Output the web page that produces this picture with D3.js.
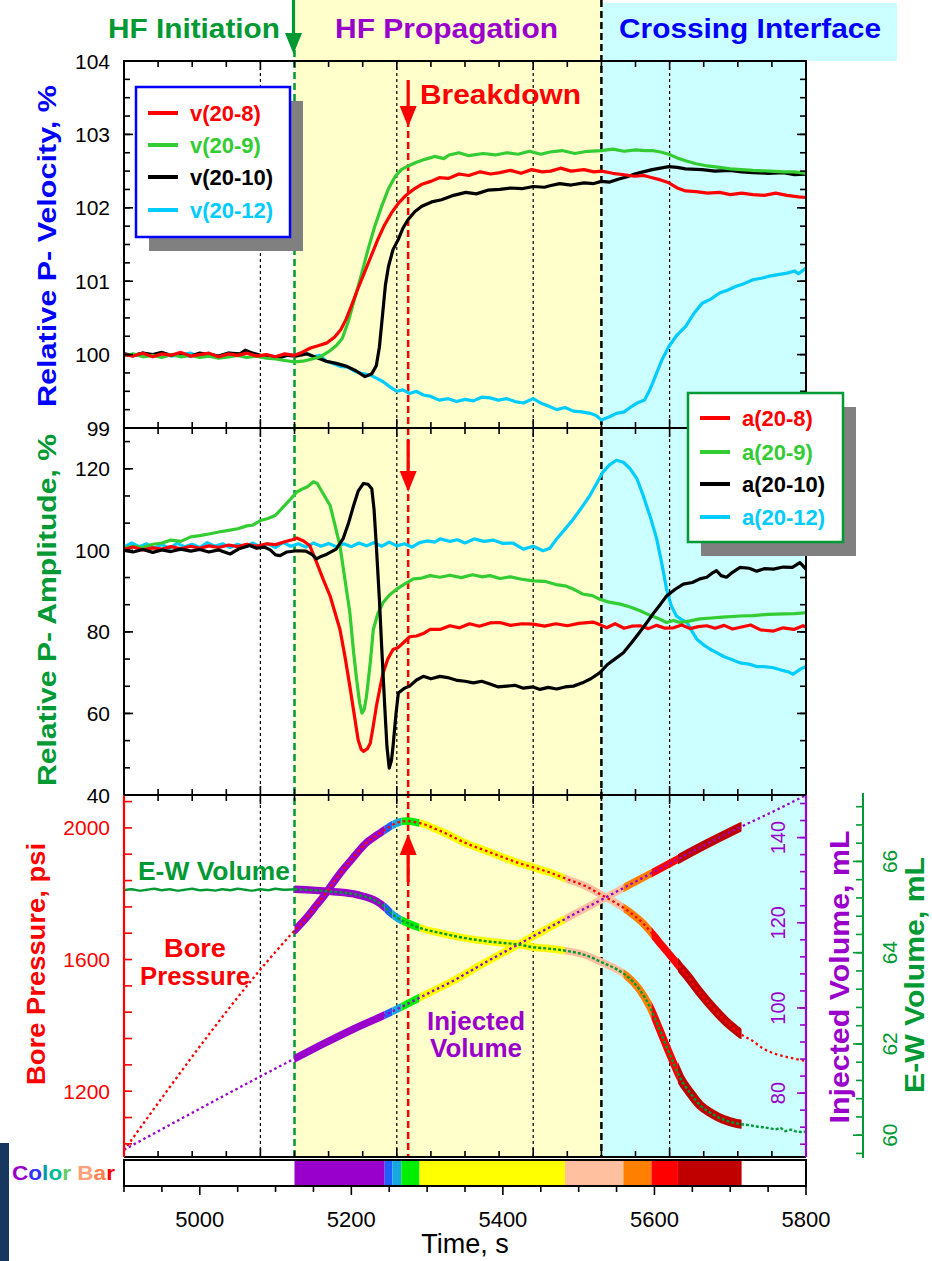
<!DOCTYPE html>
<html>
<head>
<meta charset="utf-8">
<script src="https://cdn.jsdelivr.net/npm/d3@7"></script>
<style>
  body { margin: 0; background: #fff; }
  svg { display: block; font-family: "Liberation Sans", Arial, sans-serif; }
</style>
</head>
<body>
<svg id="chart" width="932" height="1261"></svg>
<script>
// ---------------- data ----------------
// Relative P-wave velocity, % (time s, value)
const vel208 = [[4900,100.00],[4912,99.98],[4925,100.02],[4938,99.97],[4950,100.01],[4962,99.99],[4975,100.03],[4988,99.98],[5000,100.00],[5012,100.02],[5025,99.97],[5038,100.01],[5050,99.99],[5062,100.02],[5075,99.98],[5088,100.00],[5100,99.97],[5112,100.01],[5125,99.99],[5135,100.03],[5146,100.09],[5156,100.12],[5168,100.16],[5178,100.24],[5186,100.34],[5193,100.48],[5200,100.66],[5208,100.88],[5217,101.11],[5226,101.34],[5235,101.57],[5244,101.77],[5253,101.93],[5262,102.06],[5271,102.16],[5282,102.25],[5293,102.32],[5305,102.36],[5316,102.41],[5328,102.40],[5342,102.46],[5355,102.44],[5370,102.49],[5384,102.46],[5396,102.48],[5410,102.51],[5424,102.47],[5438,102.52],[5452,102.49],[5463,102.50],[5476,102.54],[5490,102.50],[5507,102.52],[5520,102.49],[5530,102.50],[5545,102.47],[5560,102.45],[5574,102.43],[5586,102.44],[5597,102.41],[5608,102.38],[5619,102.34],[5630,102.27],[5641,102.23],[5655,102.22],[5670,102.20],[5686,102.21],[5700,102.18],[5715,102.20],[5730,102.18],[5745,102.17],[5760,102.20],[5775,102.17],[5790,102.15],[5800,102.14]];
const vel209 = [[4900,99.98],[4912,100.01],[4925,99.97],[4938,99.99],[4950,99.96],[4962,100.00],[4975,99.97],[4988,99.99],[5000,99.96],[5012,99.98],[5025,99.95],[5038,99.97],[5050,99.99],[5062,99.96],[5075,99.98],[5088,99.95],[5100,99.94],[5112,99.92],[5125,99.90],[5136,99.91],[5148,99.94],[5159,99.97],[5170,100.04],[5180,100.12],[5188,100.22],[5196,100.45],[5204,100.75],[5213,101.08],[5222,101.43],[5231,101.75],[5240,102.02],[5249,102.26],[5258,102.43],[5266,102.52],[5275,102.57],[5286,102.62],[5297,102.66],[5310,102.70],[5322,102.67],[5329,102.72],[5342,102.75],[5355,102.71],[5374,102.74],[5390,102.72],[5405,102.75],[5420,102.73],[5435,102.77],[5450,102.73],[5462,102.76],[5478,102.78],[5495,102.74],[5512,102.77],[5530,102.78],[5545,102.80],[5560,102.77],[5575,102.79],[5588,102.78],[5597,102.78],[5608,102.76],[5619,102.73],[5630,102.68],[5641,102.64],[5655,102.60],[5670,102.57],[5686,102.55],[5700,102.53],[5715,102.52],[5730,102.51],[5753,102.50],[5770,102.49],[5785,102.49],[5800,102.47]];
const vel2010 = [[4900,100.01],[4912,99.99],[4925,100.02],[4938,100.00],[4950,100.03],[4962,99.99],[4975,100.01],[4988,99.98],[5000,100.02],[5012,100.00],[5025,99.98],[5038,100.02],[5053,100.01],[5060,100.06],[5070,100.02],[5080,99.99],[5093,99.97],[5106,99.96],[5116,99.99],[5126,99.98],[5141,100.01],[5154,99.96],[5167,99.91],[5180,99.88],[5194,99.84],[5206,99.78],[5218,99.70],[5227,99.74],[5233,99.85],[5237,100.10],[5241,100.52],[5245,100.95],[5249,101.20],[5255,101.43],[5262,101.57],[5268,101.72],[5275,101.84],[5284,101.95],[5293,102.02],[5306,102.08],[5319,102.11],[5335,102.17],[5351,102.21],[5365,102.19],[5380,102.24],[5396,102.25],[5410,102.27],[5425,102.26],[5440,102.29],[5455,102.28],[5462,102.30],[5475,102.33],[5490,102.31],[5507,102.34],[5520,102.33],[5530,102.36],[5541,102.35],[5552,102.39],[5563,102.42],[5574,102.46],[5585,102.49],[5597,102.52],[5608,102.54],[5619,102.56],[5630,102.55],[5641,102.53],[5663,102.52],[5680,102.50],[5700,102.51],[5715,102.49],[5730,102.48],[5750,102.47],[5770,102.48],[5785,102.45],[5800,102.46]];
const vel2012 = [[4900,100.01],[4912,99.98],[4925,100.02],[4938,99.99],[4950,100.03],[4962,99.98],[4975,100.00],[4988,100.02],[5000,99.97],[5012,100.01],[5025,99.98],[5038,100.02],[5053,100.00],[5065,100.03],[5080,99.97],[5093,99.98],[5106,99.96],[5116,100.00],[5126,99.99],[5135,100.03],[5141,100.02],[5150,99.97],[5158,99.99],[5167,99.91],[5176,99.88],[5185,99.84],[5195,99.83],[5205,99.77],[5215,99.74],[5225,99.72],[5233,99.68],[5242,99.63],[5251,99.56],[5260,99.50],[5268,99.52],[5277,99.47],[5286,99.50],[5295,99.45],[5305,99.43],[5316,99.38],[5328,99.40],[5339,99.36],[5350,99.39],[5361,99.37],[5372,99.42],[5383,99.41],[5394,99.38],[5405,99.40],[5416,99.36],[5427,99.34],[5440,99.40],[5450,99.34],[5460,99.30],[5471,99.25],[5482,99.28],[5493,99.23],[5504,99.22],[5515,99.20],[5523,99.17],[5530,99.11],[5540,99.15],[5550,99.20],[5560,99.22],[5568,99.28],[5577,99.34],[5587,99.38],[5594,99.52],[5601,99.70],[5610,99.93],[5619,100.11],[5630,100.27],[5641,100.38],[5652,100.56],[5663,100.70],[5675,100.76],[5686,100.84],[5697,100.88],[5708,100.93],[5719,100.97],[5730,101.02],[5741,101.04],[5752,101.07],[5763,101.09],[5775,101.11],[5785,101.14],[5790,101.10],[5800,101.18]];

// Relative P-wave amplitude, %
const amp208 = [[4900,100.2],[4912,100.8],[4925,100.1],[4938,100.6],[4950,100.3],[4962,100.9],[4975,100.4],[4988,101.0],[5000,100.5],[5012,101.1],[5025,100.7],[5038,101.3],[5050,100.9],[5062,101.5],[5075,101.0],[5088,101.6],[5100,101.4],[5112,102.1],[5122,102.6],[5128,103.0],[5137,102.3],[5145,101.2],[5154,97.1],[5163,92.8],[5172,88.8],[5185,80.6],[5192,73.5],[5198,66.7],[5204,59.5],[5209,53.5],[5213,51.2],[5216,50.7],[5221,51.3],[5225,52.7],[5229,57.0],[5233,61.7],[5238,66.5],[5242,70.0],[5248,73.3],[5255,75.7],[5262,76.2],[5269,77.4],[5277,78.8],[5286,79.0],[5295,79.6],[5304,80.6],[5317,80.6],[5330,81.5],[5343,81.0],[5356,82.0],[5369,81.4],[5383,82.2],[5396,82.3],[5410,81.6],[5425,82.0],[5440,81.9],[5455,81.4],[5470,82.0],[5485,81.5],[5500,82.1],[5519,82.4],[5530,81.6],[5537,81.0],[5548,82.0],[5560,80.9],[5570,81.4],[5581,81.5],[5592,80.8],[5603,81.6],[5614,80.9],[5625,81.0],[5636,81.7],[5647,80.8],[5658,81.3],[5669,81.5],[5680,80.9],[5692,81.6],[5703,80.7],[5715,81.2],[5727,81.7],[5740,80.5],[5757,80.2],[5770,81.0],[5784,80.6],[5796,81.5],[5800,81.2]];
const amp209 = [[4900,100.6],[4912,101.0],[4925,100.7],[4938,101.5],[4950,101.8],[4962,102.5],[4975,102.2],[4988,103.3],[5000,103.6],[5012,104.0],[5025,104.5],[5038,104.9],[5050,105.3],[5062,106.0],[5070,106.2],[5080,107.3],[5090,107.8],[5100,108.6],[5106,109.8],[5114,111.4],[5121,112.8],[5128,114.3],[5135,115.0],[5142,115.6],[5150,116.8],[5155,116.4],[5159,115.1],[5165,113.2],[5172,111.0],[5178,106.5],[5185,101.1],[5191,93.5],[5198,84.8],[5203,75.0],[5207,68.3],[5211,62.5],[5214,60.1],[5217,61.0],[5220,64.2],[5225,72.5],[5229,80.6],[5235,84.5],[5242,87.2],[5250,89.0],[5260,90.5],[5270,91.7],[5282,93.0],[5293,93.2],[5304,93.8],[5317,93.4],[5330,93.9],[5345,93.3],[5360,94.0],[5373,93.5],[5383,93.8],[5396,93.1],[5410,93.5],[5425,92.9],[5440,92.5],[5455,92.4],[5470,91.6],[5482,91.3],[5493,90.5],[5505,89.3],[5518,88.9],[5528,88.0],[5540,87.3],[5555,86.8],[5568,86.1],[5581,85.2],[5595,84.0],[5605,83.3],[5616,82.3],[5625,82.8],[5634,82.3],[5647,82.7],[5660,83.2],[5675,83.4],[5690,83.6],[5713,83.9],[5730,84.0],[5750,84.3],[5770,84.4],[5785,84.5],[5800,84.7]];
const amp2010 = [[4900,100.0],[4912,99.6],[4925,100.2],[4938,99.5],[4950,100.1],[4962,99.7],[4975,100.3],[4988,99.8],[5000,100.2],[5012,99.6],[5025,100.1],[5040,99.1],[5052,100.4],[5066,101.2],[5075,100.5],[5085,100.8],[5093,100.1],[5100,98.9],[5106,98.7],[5115,99.6],[5128,99.9],[5140,99.8],[5148,99.0],[5154,97.9],[5160,98.5],[5166,98.9],[5172,99.5],[5180,100.3],[5189,102.8],[5196,106.5],[5203,111.0],[5209,114.5],[5216,116.4],[5222,116.2],[5227,115.1],[5230,110.0],[5233,101.1],[5237,88.0],[5240,76.5],[5244,62.0],[5247,51.9],[5250,46.6],[5253,48.5],[5255,51.9],[5259,60.0],[5262,65.0],[5270,66.2],[5277,66.7],[5286,68.2],[5295,69.1],[5305,68.5],[5317,69.1],[5327,68.8],[5340,68.1],[5350,67.9],[5361,67.5],[5372,67.9],[5383,67.2],[5394,66.5],[5405,66.7],[5416,66.9],[5427,66.2],[5440,66.5],[5449,65.9],[5460,66.4],[5471,66.0],[5482,66.5],[5493,66.7],[5505,67.5],[5516,68.5],[5528,70.0],[5538,72.0],[5549,73.5],[5559,74.9],[5570,77.4],[5580,79.8],[5590,82.3],[5600,84.9],[5608,86.8],[5616,88.8],[5627,90.4],[5638,91.7],[5650,92.1],[5660,93.0],[5669,93.4],[5676,94.4],[5682,95.0],[5688,93.8],[5695,93.4],[5703,94.6],[5713,95.8],[5725,95.6],[5735,94.9],[5745,95.5],[5757,95.4],[5770,95.9],[5782,95.8],[5792,97.0],[5800,95.4]];
const amp2012 = [[4900,100.8],[4910,101.8],[4920,100.9],[4930,101.6],[4940,100.6],[4950,101.4],[4960,100.5],[4970,101.7],[4980,100.9],[4990,101.5],[5000,100.7],[5010,101.9],[5020,101.0],[5030,101.6],[5040,100.7],[5050,101.5],[5060,100.9],[5070,101.8],[5080,100.8],[5090,101.6],[5100,100.7],[5110,101.9],[5120,101.0],[5130,101.6],[5140,100.8],[5150,101.8],[5160,101.0],[5170,101.7],[5180,100.9],[5190,101.6],[5200,100.9],[5210,101.8],[5220,101.1],[5230,101.9],[5240,101.0],[5250,102.0],[5260,101.1],[5270,101.6],[5280,100.8],[5290,101.9],[5300,102.3],[5310,102.0],[5317,102.8],[5330,102.2],[5340,102.6],[5350,101.8],[5362,102.8],[5375,102.2],[5388,102.5],[5400,101.7],[5413,101.8],[5427,100.3],[5440,101.0],[5453,99.9],[5462,100.5],[5471,102.8],[5482,105.2],[5493,107.7],[5504,110.5],[5515,113.5],[5524,116.5],[5532,119.2],[5541,121.0],[5550,122.1],[5559,121.6],[5568,120.0],[5577,117.5],[5585,113.5],[5594,108.5],[5603,102.8],[5610,96.5],[5616,90.5],[5622,86.5],[5629,83.9],[5636,83.0],[5643,82.3],[5650,80.0],[5656,78.2],[5665,76.8],[5673,75.8],[5682,74.9],[5692,73.9],[5702,73.2],[5713,72.4],[5725,72.1],[5735,71.5],[5745,71.5],[5757,71.2],[5768,70.6],[5777,70.2],[5783,69.6],[5792,70.8],[5800,71.5]];

// Bore pressure, psi
const presStart = [[4900,1020],[5125,1688]];
const presBand = [[5125,1688],[5140,1725],[5155,1768],[5164,1794],[5175,1830],[5188,1870],[5200,1903],[5208,1925],[5220,1955],[5230,1972],[5239,1986],[5250,2003],[5261,2016],[5268,2020],[5274,2021],[5285,2017],[5296,2011],[5310,1998],[5325,1983],[5340,1966],[5355,1950],[5370,1937],[5384,1925],[5400,1911],[5424,1891],[5436,1883],[5460,1866],[5484,1845],[5510,1822],[5532,1794],[5550,1771],[5568,1743],[5585,1710],[5599,1673],[5610,1642],[5621,1612],[5632,1581],[5643,1551],[5660,1500],[5678,1451],[5693,1415],[5708,1385],[5715,1372]];
const presEnd = [[5715,1372],[5730,1352],[5743,1330],[5760,1313],[5780,1301],[5800,1292]];

// Injected volume, mL
const injStart = [[4900,66.7],[5125,88.1]];
const injBand = [[5125,88.1],[5160,91.3],[5200,94.8],[5252,99.0],[5300,103.3],[5340,106.9],[5370,110.0],[5418,114.7],[5479,120.6],[5532,125.6],[5568,129.0],[5621,134.0],[5670,138.6],[5715,142.6]];
const injEnd = [[5715,142.6],[5760,146.4],[5800,150.0]];

// E-W volume, mL
const ewStart = [[4900,65.37],[4910,65.39],[4920,65.36],[4930,65.38],[4940,65.40],[4950,65.37],[4960,65.39],[4970,65.36],[4980,65.38],[4990,65.40],[5000,65.37],[5010,65.38],[5020,65.36],[5030,65.39],[5040,65.37],[5050,65.40],[5060,65.38],[5070,65.36],[5080,65.39],[5090,65.37],[5100,65.40],[5110,65.38],[5125,65.39]];
const ewBand = [[5125,65.39],[5173,65.34],[5208,65.27],[5234,65.12],[5244,65.00],[5252,64.87],[5262,64.75],[5274,64.65],[5295,64.52],[5318,64.43],[5350,64.32],[5384,64.24],[5424,64.17],[5436,64.13],[5460,64.09],[5484,64.04],[5510,63.94],[5533,63.77],[5550,63.64],[5564,63.48],[5580,63.20],[5595,62.78],[5606,62.35],[5617,61.90],[5626,61.55],[5634,61.25],[5647,60.93],[5660,60.66],[5675,60.48],[5690,60.35],[5708,60.26],[5715,60.24]];
const ewEnd = [[5715,60.24],[5725,60.22],[5735,60.19],[5745,60.17],[5752,60.15],[5760,60.13],[5766,60.16],[5772,60.09],[5780,60.12],[5787,60.08],[5796,60.07],[5800,60.08]];

// colour bar stages (start s, end s, colour)
const stageBands = [[5125,5244,"#9900CC"],[5244,5254,"#1F5FFF"],[5254,5266,"#18A8E0"],[5266,5290,"#00EE00"],[5290,5482,"#FFFF00"],[5482,5559,"#FFC0A0"],[5559,5596,"#FF8000"],[5596,5631,"#FF0000"],[5631,5715,"#C00000"]];

// event times, s
const tInitiation = 5125, tBreakdown = 5275, tInterface = 5530;
const gridTimes = [5080, 5260, 5440, 5620];

// labels
const velNames = ["v(20-8)", "v(20-9)", "v(20-10)", "v(20-12)"];
const ampNames = ["a(20-8)", "a(20-9)", "a(20-10)", "a(20-12)"];
const seriesColors = ["#FF0000", "#33CC33", "#000000", "#00CCFF"];
const velTicks = [99, 100, 101, 102, 103, 104];
const ampTicks = [40, 60, 80, 100, 120];
const presTicks = [1200, 1600, 2000];
const injTicks = [80, 100, 120, 140];
const ewTicks = [60, 62, 64, 66];
const timeTicks = [5000, 5200, 5400, 5600, 5800];

// ---------------- layout ----------------
const L = 124, R = 806;
const topP = [61, 428], midP = [428, 795], botP = [795, 1157];
const barY = [1160, 1186];

const x = d3.scaleLinear().domain([4900, 5800]).range([L, R]);
const yV = d3.scaleLinear().domain([99, 104]).range([topP[1], topP[0]]);
const yA = d3.scaleLinear().domain([40, 130]).range([midP[1], midP[0]]);
const yP = d3.scaleLinear().domain([1000, 2100]).range([botP[1], botP[0]]);
const yI = d3.scaleLinear().domain([65, 150]).range([botP[1], botP[0]]);
const yE = d3.scaleLinear().domain([59.5, 67.5]).range([1158, 793]);

const svg = d3.select("#chart");
const defs = svg.append("defs");

// ---------------- backgrounds ----------------
svg.append("rect").attr("x", x(tInitiation)).attr("y", 0)
  .attr("width", x(tInterface) - x(tInitiation)).attr("height", botP[1]).attr("fill", "#FFFFCC");
svg.append("rect").attr("x", x(tInterface)).attr("y", topP[0])
  .attr("width", x(5800) - x(tInterface)).attr("height", botP[1] - topP[0]).attr("fill", "#CCFFFF");
svg.append("rect").attr("x", x(tInterface)).attr("y", 3)
  .attr("width", 897 - x(tInterface)).attr("height", topP[0] - 3).attr("fill", "#CCFFFF");
svg.append("rect").attr("x", 0).attr("y", 1143).attr("width", 9).attr("height", 118).attr("fill", "#17375E");

// ---------------- vertical markers ----------------
svg.selectAll(".grid").data(gridTimes).join("line")
  .attr("x1", d => x(d)).attr("x2", d => x(d)).attr("y1", topP[0]).attr("y2", botP[1])
  .attr("stroke", "#000").attr("stroke-width", 1.2).attr("stroke-dasharray", "3,3");
svg.append("line").attr("x1", x(tInitiation)).attr("x2", x(tInitiation)).attr("y1", 50).attr("y2", botP[1])
  .attr("stroke", "#009933").attr("stroke-width", 2.5).attr("stroke-dasharray", "7,4");
svg.append("line").attr("x1", x(tBreakdown)).attr("x2", x(tBreakdown)).attr("y1", 120).attr("y2", botP[1])
  .attr("stroke", "#FF0000").attr("stroke-width", 2.5).attr("stroke-dasharray", "7,4");
svg.append("line").attr("x1", x(tInterface)).attr("x2", x(tInterface)).attr("y1", 0).attr("y2", botP[1])
  .attr("stroke", "#000").attr("stroke-width", 2.5).attr("stroke-dasharray", "7,4");

// ---------------- clip regions ----------------
function clipRect(id, y0, y1) {
  defs.append("clipPath").attr("id", id).append("rect")
    .attr("x", L).attr("y", y0).attr("width", R - L).attr("height", y1 - y0);
}
clipRect("clipTop", topP[0], topP[1]);
clipRect("clipMid", midP[0], midP[1]);
clipRect("clipBot", botP[0], botP[1]);

// ---------------- velocity & amplitude curves ----------------
function drawSeries(list, yScale, clip) {
  const line = d3.line().x(d => x(d[0])).y(d => yScale(d[1]));
  const g = svg.append("g").attr("clip-path", `url(#${clip})`);
  g.selectAll("path").data(list).join("path")
    .attr("d", d => line(d.data)).attr("fill", "none")
    .attr("stroke", d => d.color).attr("stroke-width", 3.2)
    .attr("stroke-linejoin", "round").attr("stroke-linecap", "round");
}
drawSeries([vel2012, vel2010, vel209, vel208].map((d, i) => ({ data: d, color: seriesColors[3 - i] })), yV, "clipTop");
drawSeries([amp2012, amp209, amp208, amp2010].map((d, i) => ({ data: d, color: [seriesColors[3], seriesColors[1], seriesColors[0], seriesColors[2]][i] })), yA, "clipMid");

// ---------------- bottom panel: stage-coloured bands ----------------
stageBands.forEach((b, i) => {
  defs.append("clipPath").attr("id", "stage" + i).append("rect")
    .attr("x", x(b[0])).attr("y", botP[0]).attr("width", x(b[1]) - x(b[0])).attr("height", botP[1] - botP[0]);
});
const bandSeries = [
  { data: injBand, y: yI },
  { data: presBand, y: yP },
  { data: ewBand, y: yE }
];
const bot = svg.append("g").attr("clip-path", "url(#clipBot)");
bandSeries.forEach(s => {
  const line = d3.line().x(d => x(d[0])).y(d => s.y(d[1])).curve(d3.curveMonotoneX);
  stageBands.forEach((b, i) => {
    bot.append("g").attr("clip-path", `url(#stage${i})`).append("path")
      .attr("d", line(s.data)).attr("fill", "none").attr("stroke", b[2])
      .attr("stroke-width", b[2] === "#C00000" ? 9 : 7.5).attr("stroke-linecap", "round");
  });
});

function dotted(data, yScale, color, dash, width) {
  const line = d3.line().x(d => x(d[0])).y(d => yScale(d[1])).curve(d3.curveMonotoneX);
  bot.append("path").attr("d", line(data)).attr("fill", "none")
    .attr("stroke", color).attr("stroke-width", width).attr("stroke-dasharray", dash);
}
dotted(presStart.concat(presBand.slice(1), presEnd.slice(1)), yP, "#FF0000", "2.5,3", 2.3);
dotted(injStart.concat(injBand.slice(1), injEnd.slice(1)), yI, "#9900CC", "2.5,3", 2.3);
dotted(ewStart, yE, "#009933", "none", 2.4);
dotted(ewBand.concat(ewEnd.slice(1)), yE, "#009933", "3,2", 2.4);

// ---------------- frames & ticks ----------------
const tickG = svg.append("g").attr("stroke-width", 1.6);
function yTicks(scale, vals, x0, dir, len, color) {
  tickG.append("g").selectAll("line").data(vals).join("line")
    .attr("x1", x0).attr("x2", x0 + dir * len)
    .attr("y1", d => scale(d)).attr("y2", d => scale(d)).attr("stroke", color);
}
function xTicks(vals, y0, dir, lenFn, color) {
  tickG.append("g").selectAll("line").data(vals).join("line")
    .attr("x1", d => x(d)).attr("x2", d => x(d))
    .attr("y1", y0).attr("y2", d => y0 + dir * lenFn(d)).attr("stroke", color || "#000");
}
const panelTimes = d3.range(4900, 5800.1, 45);
const panelTickLen = d => ((d - 4900) % 180 === 0 ? 9 : 6);
[topP, midP, botP].forEach(p => {
  xTicks(panelTimes, p[0], 1, panelTickLen);
  xTicks(panelTimes, p[1], -1, panelTickLen);
});

const velMinor = d3.range(99, 104.01, 0.25);
yTicks(yV, velMinor, L, 1, 6, "#000"); yTicks(yV, velTicks, L, 1, 9, "#000");
yTicks(yV, velMinor, R, -1, 6, "#000"); yTicks(yV, velTicks, R, -1, 9, "#000");
const ampMinor = d3.range(40, 130.01, 20 / 3);
yTicks(yA, ampMinor, L, 1, 6, "#000"); yTicks(yA, ampTicks, L, 1, 9, "#000");
yTicks(yA, ampMinor, R, -1, 6, "#000"); yTicks(yA, ampTicks, R, -1, 9, "#000");
yTicks(yP, d3.range(1040, 2100, 80), L, 1, 8, "#FF0000");
yTicks(yI, d3.range(68, 150, 4), R, -1, 6, "#9900CC"); yTicks(yI, injTicks, R, -1, 9, "#9900CC");

svg.append("rect").attr("x", L).attr("y", topP[0]).attr("width", R - L).attr("height", topP[1] - topP[0])
  .attr("fill", "none").attr("stroke", "#000").attr("stroke-width", 2);
svg.append("rect").attr("x", L).attr("y", midP[0]).attr("width", R - L).attr("height", midP[1] - midP[0])
  .attr("fill", "none").attr("stroke", "#000").attr("stroke-width", 2);
svg.append("line").attr("x1", L).attr("x2", R).attr("y1", botP[1]).attr("y2", botP[1]).attr("stroke", "#000").attr("stroke-width", 2);
svg.append("line").attr("x1", L).attr("x2", L).attr("y1", botP[0]).attr("y2", botP[1]).attr("stroke", "#FF0000").attr("stroke-width", 2.2);
svg.append("line").attr("x1", R).attr("x2", R).attr("y1", botP[0]).attr("y2", botP[1]).attr("stroke", "#9900CC").attr("stroke-width", 2.2);
svg.append("line").attr("x1", L).attr("x2", R).attr("y1", botP[0]).attr("y2", botP[0]).attr("stroke", "#000").attr("stroke-width", 2);

// E-W volume axis
const ewX = 863;
svg.append("line").attr("x1", ewX).attr("x2", ewX).attr("y1", 793).attr("y2", 1158).attr("stroke", "#009933").attr("stroke-width", 2);
yTicks(yE, d3.range(59.6, 67.5, 0.4), ewX, -1, 7, "#009933");
yTicks(yE, ewTicks, ewX, -1, 10, "#009933");

// ---------------- colour bar ----------------
svg.append("g").selectAll("rect").data(stageBands).join("rect")
  .attr("x", d => x(d[0])).attr("y", barY[0]).attr("width", d => x(d[1]) - x(d[0]))
  .attr("height", barY[1] - barY[0]).attr("fill", d => d[2]);
svg.append("rect").attr("x", L).attr("y", barY[0]).attr("width", R - L).attr("height", barY[1] - barY[0])
  .attr("fill", "none").attr("stroke", "#000").attr("stroke-width", 2);
xTicks(d3.range(4900, 5800.1, 50), barY[1], 1, d => (d % 200 === 0 ? 9 : 6));

// ---------------- tick labels ----------------
const textG = svg.append("g");
function leftLabels(scale, vals, color) {
  textG.append("g").selectAll("text").data(vals).join("text")
    .attr("x", 110).attr("y", d => scale(d)).attr("dy", "0.36em")
    .attr("text-anchor", "end").attr("font-size", 21).attr("fill", color).text(d => d);
}
leftLabels(yV, velTicks, "#000");
leftLabels(yA, ampTicks, "#000");
leftLabels(yP, presTicks, "#FF0000");

textG.append("g").selectAll("text").data(injTicks).join("text")
  .attr("transform", d => `translate(785,${yI(d)}) rotate(-90)`)
  .attr("text-anchor", "middle").attr("font-size", 20).attr("fill", "#9900CC").text(d => d);
textG.append("g").selectAll("text").data(ewTicks).join("text")
  .attr("transform", d => `translate(897,${yE(d)}) rotate(-90)`)
  .attr("text-anchor", "middle").attr("font-size", 21).attr("fill", "#009933").text(d => d);
textG.append("g").selectAll("text").data(timeTicks).join("text")
  .attr("x", d => x(d)).attr("y", 1227).attr("text-anchor", "middle")
  .attr("font-size", 22).attr("fill", "#000").text(d => d);
textG.append("text").attr("x", 465).attr("y", 1253).attr("text-anchor", "middle")
  .attr("font-size", 27).attr("fill", "#000").text("Time, s");

// ---------------- axis titles ----------------
function vTitle(txt, bx, cy, size, len, color) {
  textG.append("text").attr("transform", `translate(${bx},${cy}) rotate(-90)`)
    .attr("text-anchor", "middle").attr("font-size", size).attr("font-weight", "bold")
    .attr("fill", color).attr("textLength", len).attr("lengthAdjust", "spacingAndGlyphs").text(txt);
}
vTitle("Relative P- Velocity, %", 56, 246, 26, 322, "#0000FF");
vTitle("Relative P- Amplitude, %", 56, 610, 26, 352, "#009933");
vTitle("Bore Pressure, psi", 45, 964, 25, 242, "#FF0000");
vTitle("Injected Volume, mL", 849, 977, 28, 293, "#9900CC");
vTitle("E-W Volume, mL", 924, 975, 28, 236, "#009933");

// ---------------- header ----------------
function hText(txt, x0, y0, size, len, color, anchor) {
  return textG.append("text").attr("x", x0).attr("y", y0).attr("font-size", size).attr("font-weight", "bold")
    .attr("fill", color).attr("text-anchor", anchor || "start")
    .attr("textLength", len).attr("lengthAdjust", "spacingAndGlyphs").text(txt);
}
hText("HF Initiation", 108, 38, 28, 172, "#009933");
hText("HF Propagation", 335, 38, 28, 223, "#9900CC");
hText("Crossing Interface", 619, 38, 28, 262, "#0000FF");
hText("Breakdown", 420, 104, 28, 161, "#FF0000");

// arrows
function arrow(xc, yFrom, yTip, color) {
  const dir = yTip > yFrom ? 1 : -1;
  const base = yTip - dir * 21;
  svg.append("line").attr("x1", xc).attr("x2", xc).attr("y1", yFrom).attr("y2", base + dir * 2)
    .attr("stroke", color).attr("stroke-width", 3.2);
  svg.append("path").attr("d", `M${xc - 8.5},${base}L${xc + 8.5},${base}L${xc},${yTip}Z`).attr("fill", color);
}
arrow(x(tInitiation) - 1, 0, 54, "#009933");
arrow(x(tBreakdown), 80, 127, "#FF0000");
arrow(x(tBreakdown), 440, 492, "#FF0000");
arrow(x(tBreakdown), 882, 834, "#FF0000");

// ---------------- legends ----------------
function legend(names, bx, by, w, h, border, rowY) {
  svg.append("rect").attr("x", bx + 13).attr("y", by + 14).attr("width", w).attr("height", h).attr("fill", "#808080");
  svg.append("rect").attr("x", bx).attr("y", by).attr("width", w).attr("height", h)
    .attr("fill", "#fff").attr("stroke", border).attr("stroke-width", 2.5);
  names.forEach((n, i) => {
    const yy = by + rowY[i];
    svg.append("line").attr("x1", bx + 12).attr("x2", bx + 42).attr("y1", yy).attr("y2", yy)
      .attr("stroke", seriesColors[i]).attr("stroke-width", 4);
    svg.append("text").attr("x", bx + 54).attr("y", yy).attr("dy", "0.36em")
      .attr("font-size", 22).attr("font-weight", "bold").attr("fill", seriesColors[i]).text(n);
  });
}
legend(velNames, 136, 87, 154, 150, "#0000FF", [26, 58, 90, 123]);
legend(ampNames, 688, 393, 155, 149, "#009933", [25, 59, 91, 124]);

// ---------------- in-panel labels ----------------
hText("E-W Volume", 138, 880, 25, 152, "#009933");
hText("Bore", 195, 957, 25, 62, "#FF0000", "middle");
hText("Pressure", 195, 985, 25, 110, "#FF0000", "middle");
hText("Injected", 476, 1030, 25, 98, "#9900CC", "middle");
hText("Volume", 476, 1057, 25, 92, "#9900CC", "middle");

// colour bar caption
const cap = textG.append("text").attr("x", 12).attr("y", 1180).attr("font-size", 21).attr("font-weight", "bold")
  .attr("textLength", 103).attr("lengthAdjust", "spacingAndGlyphs");
[["C", "#9900CC"], ["o", "#3333FF"], ["l", "#0099AA"], ["o", "#00BB99"], ["r", "#66CC66"], [" ", "#000"],
 ["B", "#FFA07A"], ["a", "#FF7F50"], ["r", "#FF0000"]].forEach(c => {
  cap.append("tspan").attr("fill", c[1]).text(c[0]);
});
</script>
</body>
</html>
